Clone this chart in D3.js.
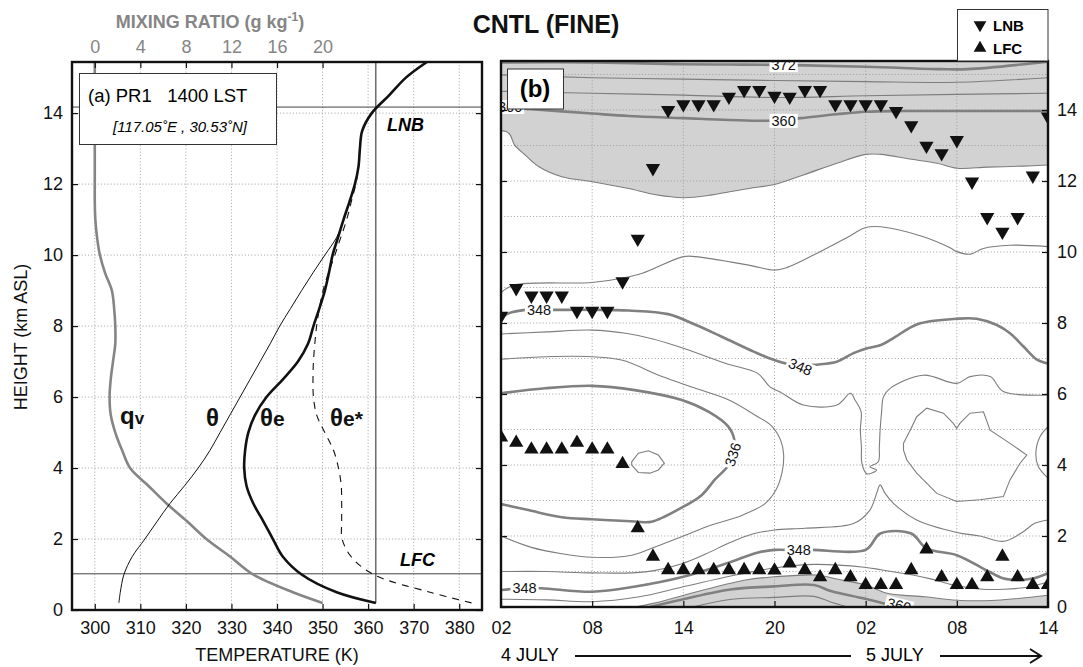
<!DOCTYPE html>
<html>
<head>
<meta charset="utf-8">
<script src="https://cdn.jsdelivr.net/npm/d3@7"></script>
<style>
  body { margin: 0; background: #fff; }
  svg { font-family: "Liberation Sans", Arial, Helvetica, sans-serif; }
</style>
</head>
<body>
<svg id="chart" width="1083" height="667"></svg>
<script>

// ---- panel (a): sounding at PR1, 1400 LST ----
const heights = [0.2, 0.5, 1, 1.5, 2, 2.5, 3, 3.5, 4, 4.5, 5, 5.5, 6, 6.5, 7, 7.5, 8, 8.5, 9, 9.5, 10, 10.5, 11, 11.5, 12, 12.5, 13, 13.5, 14, 14.5, 15, 15.44]
const theta = [305.3, 305.6, 306.4, 308.2, 311.0, 313.7, 316.5, 319.7, 322.7, 325.3, 327.5, 329.7, 331.9, 334.1, 336.3, 338.5, 340.6, 343.0, 345.4, 347.9, 350.5, 353.1, 354.7, 355.9, 357.1, 357.9, 358.2, 358.7, 360.8, 364.6, 368.3, 372.9]
const thetaE = [361.7, 353.1, 345.4, 341.3, 339.1, 337.0, 334.8, 333.3, 332.8, 333.0, 333.7, 335.2, 337.7, 341.3, 344.6, 346.8, 348.0, 349.3, 350.5, 351.4, 352.2, 353.4, 354.6, 355.9, 357.1, 357.9, 358.2, 358.7, 360.8, 364.6, 368.3, 372.9]
const thetaEs = [382.7, 373.6, 361.2, 356.3, 354.3, 354.2, 354.2, 354.1, 353.5, 352.4, 350.5, 348.7, 348.0, 347.9, 348.0, 348.3, 348.7, 349.3, 350.1, 351.3, 352.7, 354.0, 355.3, 356.3, 357.3, 357.9, 358.2, 358.7, 360.8, 364.6, 368.3, 372.9]
const qv = [20.0, 17.4, 13.9, 11.9, 9.8, 8.1, 6.3, 4.7, 3.1, 2.4, 1.8, 1.4, 1.3, 1.4, 1.6, 1.8, 1.8, 1.7, 1.5, 0.9, 0.45, 0.2, 0.05, 0, 0, 0, 0, 0, 0, 0, 0, 0]
const parcelThetaE = 361.7
const lnbHeight = 14.17
const lfcHeight = 1.02

const tempTicks = [300, 310, 320, 330, 340, 350, 360, 370, 380]
const mixTicks = [0, 4, 8, 12, 16, 20]
const heightTicks = [0, 2, 4, 6, 8, 10, 12, 14]

// ---- panel (b): time-height section, hours from 00 LST 4 July ----
const timeTicks = [2, 8, 14, 20, 26, 32, 38]
const timeLabels = ["02", "08", "14", "20", "02", "08", "14"]
const gridKm = [1, 2, 3, 4, 5, 6, 7, 8, 9, 10, 11, 12, 13, 14, 15]

const obsHours = [2, 3, 4, 5, 6, 7, 8, 9, 10, 11, 12, 13, 14, 15, 16, 17, 18, 19, 20, 21, 22, 23, 24, 25, 26, 27, 28, 29, 30, 31, 32, 33, 34, 35, 36, 37, 38]
const lnbKm = [8.2, 8.98, 8.77, 8.77, 8.77, 8.34, 8.34, 8.34, 9.17, 10.37, 12.36, 14.0, 14.16, 14.16, 14.16, 14.37, 14.56, 14.56, 14.4, 14.37, 14.56, 14.56, 14.16, 14.16, 14.16, 14.16, 13.97, 13.57, 12.99, 12.78, 13.15, 11.98, 10.98, 10.57, 10.98, 12.15, 13.81]
const lfcKm = [4.78, 4.63, 4.44, 4.44, 4.44, 4.63, 4.44, 4.44, 4.03, 2.22, 1.42, 1.04, 1.04, 1.04, 1.04, 1.04, 1.04, 1.04, 1.03, 1.23, 1.04, 0.84, 1.04, 0.84, 0.62, 0.62, 0.62, 1.04, 1.62, 0.84, 0.62, 0.62, 0.84, 1.42, 0.84, 0.62, 0.62]

// contour lines as [hour, km] points
const c372 = [[2, 15.34], [8, 15.34], [14, 15.29], [20, 15.27], [26, 15.22], [30.9, 15.15], [32.7, 15.15], [38, 15.36]]
const c368 = [[2, 14.99], [8, 14.91], [14, 14.87], [20, 14.83], [26, 14.8], [32, 14.78], [38, 14.91]]
const c364 = [[2, 14.53], [8, 14.47], [14, 14.42], [20, 14.35], [26, 14.4], [32, 14.44], [38, 14.47]]
const c360 = [[2, 14.09], [3.8, 14.03], [8, 13.9], [10.4, 13.83], [14, 13.77], [17, 13.72], [20, 13.7], [21.7, 13.77], [24.1, 13.88], [26, 13.95], [28.5, 13.97], [32, 13.97], [38, 13.97]]
const c356 = [[2, 13.41], [2.3, 13.4], [2.6, 13.3], [2.9, 13.01], [3.6, 12.73], [4.5, 12.4], [6, 12.12], [8, 11.98], [10.4, 11.79], [12.1, 11.62], [14, 11.53], [15.9, 11.61], [18.3, 11.79], [20, 11.9], [21.9, 12.17], [24.1, 12.5], [26, 12.75], [27, 12.75], [28.9, 12.62], [30.7, 12.5], [32, 12.36], [34, 12.39], [36.4, 12.42], [38, 12.45]]
const c352 = [[2, 8.86], [2.9, 9.07], [8, 9.14], [9.95, 9.26], [11.3, 9.4], [14, 9.87], [14.8, 9.87], [18.3, 9.63], [20, 9.49], [20.8, 9.56], [22.6, 9.92], [24.75, 10.4], [26, 10.69], [27, 10.71], [29.8, 10.43], [31.55, 10.12], [32, 10.01], [32.9, 9.94], [33.75, 10.1], [35.5, 10.19], [38, 10.15]]
const c348 = [[2, 8.13], [2.5, 8.27], [3.6, 8.37], [5.5, 8.37], [8, 8.37], [10.4, 8.35], [13, 8.25], [14.8, 7.95], [16.5, 7.62], [18.7, 7.18], [19.7, 7.0], [20.8, 6.85], [21.7, 6.77], [22.6, 6.82], [24.1, 6.91], [25.2, 7.15], [26.1, 7.29], [27, 7.38], [28, 7.62], [28.5, 7.76], [29.6, 7.99], [32, 8.12], [33.3, 8.12], [34.6, 7.95], [35.5, 7.71], [36.4, 7.33], [37.3, 6.96], [38, 6.86]]
const c344 = [[2, 7.69], [5, 7.75], [8, 7.8], [10.2, 7.71], [12, 7.55], [14, 7.29], [16.8, 6.86], [18.9, 6.58], [19.7, 6.2], [20.4, 6.05], [21.9, 5.69], [24.1, 5.69], [25.0, 6.02], [25.3, 5.83], [25.7, 5.5], [25.65, 5.0], [25.72, 4.5], [25.75, 4.05], [26.07, 3.75], [26.72, 3.86], [26.28, 3.95], [26.83, 4.09], [26.9, 4.5], [26.95, 4.98], [27.05, 5.5], [27.17, 5.92], [27.61, 6.16], [29.8, 6.53], [32, 6.3], [32.87, 6.49], [34.2, 6.49], [35.06, 6.07], [38, 5.97]]
const c340 = [[2, 6.98], [5, 7.05], [8, 7.05], [10, 6.95], [12.6, 6.49], [14.8, 6.16], [17, 5.83], [18.7, 5.41], [19.8, 5.1], [20.4, 4.7], [20.6, 4.3], [20.5, 3.8], [20.1, 3.3], [19.4, 2.92], [17.85, 2.58], [15.8, 2.3], [14, 2.0], [12.3, 1.72], [10.6, 1.46], [8, 1.4], [6, 1.5], [4, 1.68], [2, 2.0]]
const c336 = [[2, 6.02], [4.9, 6.16], [8, 6.23], [10.8, 6.11], [13.9, 5.83], [15.65, 5.5], [16.96, 5.08], [17.36, 4.7], [17.3, 4.3], [16.9, 3.95], [16.1, 3.6], [15.2, 3.15], [13.9, 2.8], [11.9, 2.4], [10.8, 2.41], [8, 2.47], [6, 2.53], [3.8, 2.73], [2, 2.9]]
const c332 = [[10.6, 4.09], [11.04, 4.33], [11.7, 4.4], [12.36, 4.28], [12.75, 4.05], [12.36, 3.86], [11.8, 3.77], [11.04, 3.79], [10.6, 4.0]]
const c340b = [[28.49, 4.61], [28.93, 4.98], [29.36, 5.36], [30.02, 5.6], [31.12, 5.46], [31.77, 5.17], [31.99, 5.03], [32.2, 5.17], [32.87, 5.46], [33.75, 5.5], [34.19, 4.98], [35.5, 4.61], [36.6, 4.28], [36.16, 4.05], [35.5, 3.58], [35.06, 3.11], [33.53, 3.02], [31.99, 2.97], [30.68, 3.2], [29.36, 3.77], [28.71, 4.14], [28.49, 4.42]]
const c340c = [[38, 5.08], [37.48, 4.8], [37.2, 4.33], [37.37, 3.95], [38, 3.63]]
const c344low = [[2, 1.0], [5, 1.0], [8, 0.96], [11.5, 0.99], [13.9, 1.22], [15.5, 1.5], [17, 1.8], [18.5, 2.05], [20, 2.17], [22, 2.22], [25.2, 2.35], [26.28, 2.73], [26.72, 3.2], [26.95, 3.44], [27.28, 3.2], [27.83, 2.92], [29.36, 2.45], [32, 2.1], [33.5, 2.0], [35.1, 1.85], [36.3, 2.1], [37.1, 2.35], [38, 2.45]]
const c348low = [[2, 0.48], [3.5, 0.53], [4.66, 0.53], [8, 0.43], [10.75, 0.57], [14, 0.85], [17, 1.25], [18.86, 1.53], [20, 1.61], [21.6, 1.6], [22.5, 1.61], [26, 1.61], [26.97, 2.07], [29, 2.07], [30, 1.65], [32, 1.46], [34.1, 1.0], [35.1, 0.8], [36.1, 0.76], [37, 0.8], [38, 0.95]]
const c352low = [[2, 0.22], [5, 0.2], [8, 0.15], [11, 0.28], [14, 0.57], [17.2, 0.88], [20, 1.1], [22.6, 1.2], [25.9, 1.12], [27, 1.05], [29.1, 0.9], [30.2, 0.8], [32, 0.6], [33.7, 0.5], [35.1, 0.5], [36.5, 0.55], [38, 0.7]]
const c356low = [[10.8, 0], [12.5, 0.15], [14.1, 0.34], [18.1, 0.76], [20, 0.85], [22.8, 0.9], [24.2, 0.78], [26, 0.62], [27.5, 0.38], [29.9, 0.29], [32, 0.19], [34.6, 0.19], [38, 0.33]]
const c360low = [[11.8, 0], [14, 0.22], [17.2, 0.5], [20, 0.58], [22.6, 0.62], [23.7, 0.45], [25.9, 0.24], [27.4, 0.08], [28.5, -0.05]]
const c364low = [[14.6, 0], [17.2, 0.22], [20, 0.27], [22.6, 0.3], [23.7, 0.14], [24.8, 0]]

// contour labels: [hour, km, text, rotation]
const contourLabels = [
  [20.6, 15.27, "372", 0], [20.6, 13.7, "360", 0], [2.6, 14.09, "360", 0],
  [4.5, 8.37, "348", 0], [21.7, 6.77, "348", 22], [17.25, 4.3, "336", -72],
  [3.55, 0.53, "348", 0], [21.6, 1.6, "348", 0], [28.2, 0.05, "360", 14]
]

const svg = d3.select("#chart")
const gridStyle = sel => sel.attr("stroke", "#9a9a9a").attr("stroke-width", 0.8).attr("stroke-dasharray", "1.2,2")

// ================= panel (a) =================
const pa = { left: 72, right: 482, top: 62, bottom: 610 }
const xT = d3.scaleLinear().domain([295, 385]).range([pa.left, pa.right])
const xQ = d3.scaleLinear().domain([-2, 34]).range([pa.left, pa.right])
const yA = d3.scaleLinear().domain([0, 15.44]).range([pa.bottom, pa.top])
const ga = svg.append("g")

// grid
ga.append("g").selectAll("line").data(tempTicks).join("line")
  .attr("x1", d => xT(d)).attr("x2", d => xT(d))
  .attr("y1", pa.top).attr("y2", pa.bottom).call(gridStyle)
ga.append("g").selectAll("line").data(heightTicks.slice(1)).join("line")
  .attr("x1", pa.left).attr("x2", pa.right)
  .attr("y1", d => yA(d)).attr("y2", d => yA(d)).call(gridStyle)

// LNB / LFC levels and parcel line
ga.selectAll("line.lev").data([lnbHeight, lfcHeight]).join("line")
  .attr("class", "lev")
  .attr("x1", pa.left).attr("x2", pa.right)
  .attr("y1", d => yA(d)).attr("y2", d => yA(d))
  .attr("stroke", "#444").attr("stroke-width", 1)
ga.append("line")
  .attr("x1", xT(parcelThetaE)).attr("x2", xT(parcelThetaE))
  .attr("y1", yA(heights[0])).attr("y2", pa.top)
  .attr("stroke", "#222").attr("stroke-width", 1)

const profile = (vals, xs) => d3.line()
  .x(d => xs(d[0])).y(d => yA(d[1]))
  .curve(d3.curveCatmullRom.alpha(0.5))(d3.zip(vals, heights))

ga.append("path").attr("d", profile(qv, xQ))
  .attr("fill", "none").attr("stroke", "#858585").attr("stroke-width", 2.6)
ga.append("path").attr("d", profile(theta, xT))
  .attr("fill", "none").attr("stroke", "#111").attr("stroke-width", 1)
ga.append("path").attr("d", profile(thetaEs, xT))
  .attr("fill", "none").attr("stroke", "#111").attr("stroke-width", 1.1)
  .attr("stroke-dasharray", "7,6")
ga.append("path").attr("d", profile(thetaE, xT))
  .attr("fill", "none").attr("stroke", "#111").attr("stroke-width", 2.6)

// curve names
const nm = ga.append("g").attr("font-weight", "bold").attr("fill", "#111")
const q = nm.append("text").attr("x", 120).attr("y", 424).attr("font-size", 24)
q.append("tspan").text("q")
q.append("tspan").attr("font-size", 17).text("v")
nm.append("text").attr("x", 206).attr("y", 426).attr("font-size", 24).text("θ")
const te = nm.append("text").attr("x", 260).attr("y", 426).attr("font-size", 24)
te.append("tspan").text("θ")
te.append("tspan").attr("font-size", 21).text("e")
const ts = nm.append("text").attr("x", 330).attr("y", 426).attr("font-size", 24)
ts.append("tspan").text("θ")
ts.append("tspan").attr("font-size", 21).text("e*")

ga.append("text").attr("x", 387).attr("y", 131).attr("font-size", 18)
  .attr("font-weight", "bold").attr("font-style", "italic").text("LNB")
ga.append("text").attr("x", 400).attr("y", 566).attr("font-size", 18)
  .attr("font-weight", "bold").attr("font-style", "italic").text("LFC")

// info box
ga.append("rect").attr("x", 79.5).attr("y", 73.5).attr("width", 197).attr("height", 71)
  .attr("fill", "#fff").attr("stroke", "#333").attr("stroke-width", 1)
ga.append("text").attr("x", 88).attr("y", 102).attr("font-size", 18.5)
  .style("white-space", "pre").text("(a) PR1   1400 LST")
ga.append("text").attr("x", 113).attr("y", 132).attr("font-size", 15)
  .attr("font-style", "italic").text("[117.05˚E , 30.53˚N]")

// frame and axes
ga.append("rect").attr("x", pa.left).attr("y", pa.top)
  .attr("width", pa.right - pa.left).attr("height", pa.bottom - pa.top)
  .attr("fill", "none").attr("stroke", "#111").attr("stroke-width", 2.4)

const styleAxis = (g, size, color) => {
  g.attr("font-size", null).attr("font-family", null)
  g.select(".domain").remove()
  g.selectAll(".tick line").attr("stroke", "#111").attr("stroke-width", 1.2)
  g.selectAll("text").attr("font-size", size).attr("fill", color)
}
ga.append("g").attr("transform", `translate(0,${pa.bottom})`)
  .call(d3.axisBottom(xT).tickValues(tempTicks).tickSize(-6).tickPadding(11))
  .call(g => styleAxis(g, 18, "#111"))
ga.append("g").attr("transform", `translate(${pa.left},0)`)
  .call(d3.axisLeft(yA).tickValues(heightTicks).tickSize(-6).tickPadding(9))
  .call(g => styleAxis(g, 18, "#111"))
ga.append("g").attr("transform", `translate(${pa.right},0)`)
  .call(d3.axisRight(yA).tickValues(heightTicks).tickSize(-6).tickFormat(""))
  .call(g => styleAxis(g, 18, "#111"))
ga.append("g").attr("transform", `translate(0,${pa.top})`)
  .call(d3.axisTop(xQ).tickValues(mixTicks).tickSize(-6).tickPadding(9))
  .call(g => styleAxis(g, 18, "#858585"))

// axis titles
ga.append("text").attr("x", 277).attr("y", 661).attr("text-anchor", "middle")
  .attr("font-size", 18).attr("fill", "#111").text("TEMPERATURE (K)")
ga.append("text").attr("transform", "translate(27,337) rotate(-90)")
  .attr("text-anchor", "middle").attr("font-size", 18).attr("fill", "#111")
  .text("HEIGHT (km ASL)")
const mt = ga.append("text").attr("x", 210).attr("y", 28).attr("text-anchor", "middle")
  .attr("font-size", 18).attr("font-weight", "bold").attr("fill", "#858585")
mt.append("tspan").text("MIXING RATIO (g kg")
mt.append("tspan").attr("font-size", 12).attr("dy", -7).text("-1")
mt.append("tspan").attr("dy", 7).text(")")

// ================= panel (b) =================
const pb = { left: 501, right: 1048, top: 61, bottom: 607 }
const xH = d3.scaleLinear().domain([2, 38]).range([pb.left, pb.right])
const yB = d3.scaleLinear().domain([0, 15.38]).range([pb.bottom, pb.top])
const gb = svg.append("g")

svg.append("defs").append("clipPath").attr("id", "clipB")
  .append("rect").attr("x", pb.left).attr("y", pb.top)
  .attr("width", pb.right - pb.left).attr("height", pb.bottom - pb.top)
const inner = gb.append("g").attr("clip-path", "url(#clipB)")

const smooth = d3.curveCatmullRom.alpha(0.5)
// shaded areas (theta-e >= 356 K)
inner.append("path")
  .attr("d", d3.area().x(d => xH(d[0])).y0(pb.top).y1(d => yB(d[1])).curve(smooth)(c356))
  .attr("fill", "#d2d2d2")
inner.append("path")
  .attr("d", d3.area().x(d => xH(d[0])).y0(pb.bottom + 2).y1(d => yB(d[1])).curve(smooth)(c356low))
  .attr("fill", "#d2d2d2")

// grid
inner.append("g").selectAll("line").data(timeTicks.slice(1, -1)).join("line")
  .attr("x1", d => xH(d)).attr("x2", d => xH(d))
  .attr("y1", pb.top).attr("y2", pb.bottom).call(gridStyle)
inner.append("g").selectAll("line").data(gridKm).join("line")
  .attr("x1", pb.left).attr("x2", pb.right)
  .attr("y1", d => yB(d)).attr("y2", d => yB(d)).call(gridStyle)

// contours
const thick = [c372, c360, c348, c336, c348low, c360low]
const thin = [c368, c364, c356, c352, c344, c340, c340c, c344low, c352low, c356low, c364low]
const closed = [c332, c340b]
const cLine = d3.line().x(d => xH(d[0])).y(d => yB(d[1])).curve(smooth)
const cLoop = d3.line().x(d => xH(d[0])).y(d => yB(d[1])).curve(d3.curveLinearClosed)
inner.append("g").selectAll("path").data(thin).join("path")
  .attr("d", cLine).attr("fill", "none").attr("stroke", "#7d7d7d").attr("stroke-width", 1.1)
inner.append("g").selectAll("path").data(closed).join("path")
  .attr("d", cLoop).attr("fill", "none").attr("stroke", "#7d7d7d").attr("stroke-width", 1.1)
inner.append("g").selectAll("path").data(thick).join("path")
  .attr("d", cLine).attr("fill", "none").attr("stroke", "#808080").attr("stroke-width", 2.6)

// contour labels on white boxes
contourLabels.forEach(([h, k, txt, rot]) => {
  const g = inner.append("g").attr("transform", `translate(${xH(h)},${yB(k)}) rotate(${rot})`)
  const t = g.append("text").attr("text-anchor", "middle").attr("dy", "0.36em")
    .attr("font-size", 14.5).attr("fill", "#111").text(txt)
  const bb = t.node().getBBox()
  g.insert("rect", "text").attr("x", bb.x - 2).attr("y", bb.y + 1)
    .attr("width", bb.width + 4).attr("height", bb.height - 2).attr("fill", "#fff")
})

// LNB / LFC triangles
const tri = d3.symbol(d3.symbolTriangle, 88)
inner.append("g").selectAll("path").data(d3.zip(obsHours, lnbKm)).join("path")
  .attr("d", tri).attr("fill", "#111")
  .attr("transform", d => `translate(${xH(d[0])},${yB(d[1])}) rotate(180)`)
inner.append("g").selectAll("path").data(d3.zip(obsHours, lfcKm)).join("path")
  .attr("d", tri).attr("fill", "#111")
  .attr("transform", d => `translate(${xH(d[0])},${yB(d[1])})`)

// (b) tag
gb.append("rect").attr("x", 507.5).attr("y", 69).attr("width", 56).attr("height", 40)
  .attr("fill", "#fff").attr("stroke", "#333").attr("stroke-width", 1)
gb.append("text").attr("x", 535).attr("y", 97).attr("text-anchor", "middle")
  .attr("font-size", 24).attr("font-weight", "bold").text("(b)")

// frame and axes
gb.append("rect").attr("x", pb.left).attr("y", pb.top)
  .attr("width", pb.right - pb.left).attr("height", pb.bottom - pb.top)
  .attr("fill", "none").attr("stroke", "#111").attr("stroke-width", 2.4)
gb.append("g").attr("transform", `translate(0,${pb.bottom})`)
  .call(d3.axisBottom(xH).tickValues(timeTicks).tickFormat((d, i) => timeLabels[i])
    .tickSize(-6).tickPadding(14))
  .call(g => styleAxis(g, 18, "#111"))
gb.append("g").attr("transform", `translate(${pb.right},0)`)
  .call(d3.axisRight(yB).tickValues(heightTicks).tickSize(-6).tickPadding(9))
  .call(g => styleAxis(g, 18, "#111"))
gb.append("g").attr("transform", `translate(${pb.left},0)`)
  .call(d3.axisLeft(yB).tickValues(heightTicks).tickSize(-6).tickFormat(""))
  .call(g => styleAxis(g, 18, "#111"))

// date arrows
gb.append("text").attr("x", 501).attr("y", 661).attr("font-size", 18).text("4 JULY")
gb.append("line").attr("x1", 575).attr("x2", 851).attr("y1", 656).attr("y2", 656)
  .attr("stroke", "#111").attr("stroke-width", 2)
gb.append("text").attr("x", 866).attr("y", 661).attr("font-size", 18).text("5 JULY")
gb.append("line").attr("x1", 940).attr("x2", 1041).attr("y1", 656).attr("y2", 656)
  .attr("stroke", "#111").attr("stroke-width", 2)
gb.append("path").attr("d", "M1030,649L1041,656L1030,663")
  .attr("fill", "none").attr("stroke", "#111").attr("stroke-width", 2)

// title and legend
svg.append("text").attr("x", 546).attr("y", 33).attr("text-anchor", "middle")
  .attr("font-size", 25).attr("font-weight", "bold").attr("fill", "#111").text("CNTL (FINE)")
const lg = svg.append("g")
lg.append("rect").attr("x", 957.5).attr("y", 9.5).attr("width", 90.5).attr("height", 51.5)
  .attr("fill", "#fff").attr("stroke", "#333").attr("stroke-width", 1)
const tri2 = d3.symbol(d3.symbolTriangle, 70)
lg.append("path").attr("d", tri2).attr("transform", "translate(980,25) rotate(180)").attr("fill", "#111")
lg.append("path").attr("d", tri2).attr("transform", "translate(980,48)").attr("fill", "#111")
lg.append("text").attr("x", 993).attr("y", 31).attr("font-size", 15).attr("font-weight", "bold").text("LNB")
lg.append("text").attr("x", 993).attr("y", 54).attr("font-size", 15).attr("font-weight", "bold").text("LFC")

</script>
</body>
</html>
